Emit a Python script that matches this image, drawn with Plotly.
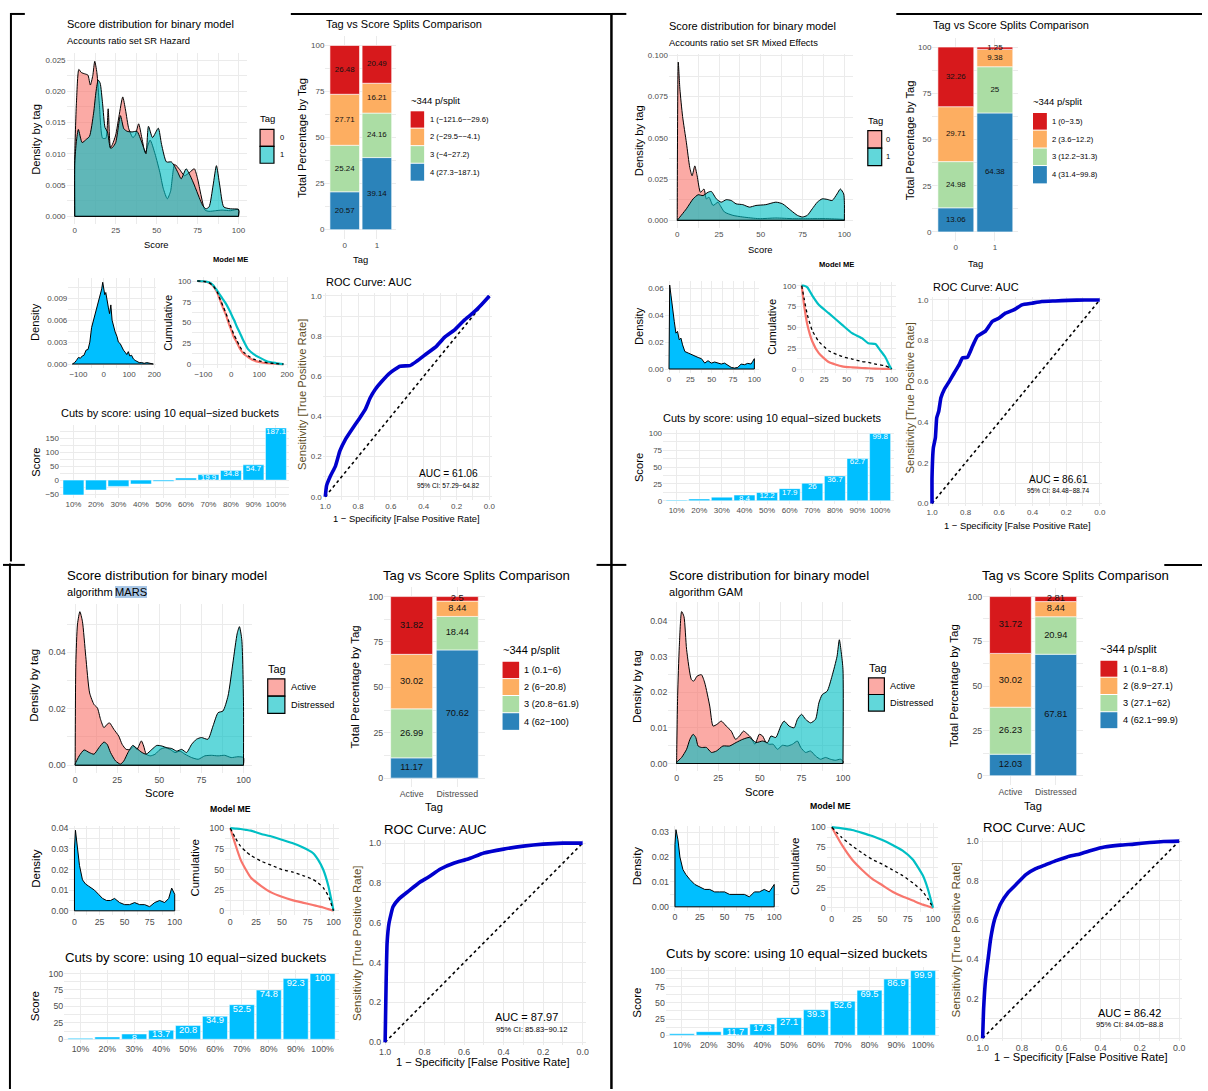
import plotly.graph_objects as go

W, H = 1208, 1091

# ======================= DATA =======================
TITLE_DENS = "Score distribution for binary model"
TITLE_BARS = "Tag vs Score Splits Comparison"
TITLE_CUTS = "Cuts by score: using 10 equal\u2212sized buckets"
TITLE_ROC = "ROC Curve: AUC"
CAPTION = "Model ME"
SPLIT_LEGEND_TITLE = "~344 p/split"
TAG_LEGEND_TITLE = "Tag"
DECILE_LABELS = ["10%", "20%", "30%", "40%", "50%", "60%", "70%", "80%", "90%", "100%"]
PCT_TICKS = [0, 25, 50, 75, 100]
PCT_TICKTEXT = ["0", "25", "50", "75", "100"]
SCORE_TICKS = [0, 25, 50, 75, 100]
SCORE_TICKTEXT = ["0", "25", "50", "75", "100"]
WIDE_TICKS = [-100, 0, 100, 200]
WIDE_TICKTEXT = ["\u2212100", "0", "100", "200"]
ROC_TICKS = [0, 0.2, 0.4, 0.6, 0.8, 1.0]
ROC_TICKTEXT = ["0.0", "0.2", "0.4", "0.6", "0.8", "1.0"]
DIAG_SPEC = [1, 0]
DIAG_SENS = [0, 1]

# ---------- Q1 : Accounts ratio set SR Hazard ----------
Q1_SUBTITLE = "Accounts ratio set SR Hazard"
Q1_TAGS = ["0", "1"]
Q1_D0_X = [0, 1, 2.5, 4, 6, 8, 9.5, 11, 12.2, 13.5, 15, 17, 19, 20.4, 21.8, 23, 25, 27, 29.3, 31, 33, 35.5, 37, 39, 41, 43, 46, 49, 52, 54, 56.5, 58.5, 61, 64, 67, 70, 73, 75, 77, 79.5, 82, 86, 90, 95, 100]
Q1_D0_Y = [0.0095, 0.018, 0.0235, 0.023, 0.0228, 0.0226, 0.021, 0.0225, 0.0248, 0.023, 0.018, 0.0125, 0.0125, 0.0172, 0.011, 0.0115, 0.013, 0.016, 0.0191, 0.017, 0.014, 0.0126, 0.013, 0.0148, 0.0125, 0.0102, 0.0122, 0.010, 0.007, 0.0045, 0.0028, 0.004, 0.0083, 0.0075, 0.0065, 0.007, 0.0076, 0.006, 0.0035, 0.001, 0.0008, 0.0009, 0.001, 0.0009, 0.0011]
Q1_D1_X = [0, 1, 2.2, 4.5, 7, 9, 11.5, 13, 14.3, 15.5, 17, 18.5, 20, 21.8, 23, 25, 27.9, 30, 32, 35, 38, 40, 42, 43.5, 45, 47.5, 51, 53, 56, 59, 61, 63, 65, 68, 70.5, 73, 76, 78, 80, 82, 84.5, 86.5, 88.5, 91, 95, 100]
Q1_D1_Y = [0.0085, 0.012, 0.0139, 0.0118, 0.0123, 0.0128, 0.0165, 0.020, 0.0218, 0.0213, 0.018, 0.0142, 0.0135, 0.0109, 0.011, 0.0118, 0.0161, 0.014, 0.0136, 0.0135, 0.0136, 0.0125, 0.011, 0.010, 0.0144, 0.0126, 0.0141, 0.0115, 0.0087, 0.0087, 0.008, 0.007, 0.006, 0.0076, 0.0065, 0.005, 0.003, 0.0018, 0.0012, 0.0015, 0.005, 0.0081, 0.005, 0.0015, 0.0012, 0.0011]
Q1_DENS_YT = [0, 0.005, 0.010, 0.015, 0.020, 0.025]
Q1_DENS_YTT = ["0.000", "0.005", "0.010", "0.015", "0.020", "0.025"]
Q1_PCT_TAG0 = [26.48, 27.71, 25.24, 20.57]
Q1_PCT_TAG1 = [20.49, 16.21, 24.16, 39.14]
Q1_SPLIT_LABELS = ["1 (\u2212121.6\u2212\u221229.6)", "2 (\u221229.5\u2212\u22124.1)", "3 (\u22124\u221227.2)", "4 (27.3\u2212187.1)"]
Q1_ALL_X = [-124, -115, -108, -100, -92, -85, -78, -70, -62, -55, -48, -42, -36, -30, -24, -18, -13, -8, -4, 0, 4, 8, 13, 18, 23, 28, 33, 39, 45, 52, 58, 65, 72, 78, 85, 91, 97, 103, 110, 117, 124, 132, 140, 150, 160, 170, 180, 190, 196]
Q1_ALL_Y = [0.0, 0.0002, 0.0005, 0.0009, 0.0008, 0.0011, 0.0012, 0.0019, 0.0020, 0.0030, 0.0050, 0.0058, 0.0066, 0.0072, 0.0080, 0.0088, 0.0096, 0.0103, 0.0112, 0.0104, 0.0095, 0.0098, 0.0085, 0.0078, 0.0069, 0.0081, 0.0060, 0.0050, 0.0044, 0.0038, 0.0030, 0.0028, 0.0022, 0.0019, 0.0016, 0.0013, 0.0017, 0.0011, 0.0012, 0.0007, 0.0005, 0.0003, 0.0002, 0.0002, 0.0001, 0.0002, 0.0001, 0.0001, 0.0]
Q1_ALL_YT = [0, 0.003, 0.006, 0.009]
Q1_ALL_YTT = ["0.000", "0.003", "0.006", "0.009"]
Q1_CUM_X = [-122, -100, -80, -65, -50, -40, -30, -20, -10, 0, 10, 20, 30, 45, 60, 80, 100, 130, 160, 187]
Q1_CUM_TAG0 = [100, 99.5, 98, 94, 86, 77, 68, 60, 50, 41, 32, 26, 19, 12, 8.5, 4.5, 2.5, 1, 0.3, 0]
Q1_CUM_TAG1 = [100, 99.7, 98.5, 95, 88, 83, 78, 73, 67, 60, 53, 45, 38, 27, 18, 12, 8, 3, 1.2, 0]
Q1_CUM_ALL = [100, 99.5, 98.1, 94.2, 86.5, 78, 70, 62, 52.5, 43.5, 35, 28.5, 21.5, 14, 10, 6, 3.8, 1.5, 0.5, 0]
Q1_CUTS = [-53.4, -35.6, -22.6, -14.0, -4.1, 7.5, 19.9, 34.8, 54.7, 187.1]
Q1_CUTS_YT = [-50, 0, 50, 100, 150]
Q1_CUTS_YTT = ["\u221250", "0", "50", "100", "150"]
Q1_ROC_SPEC = [1, 0.992, 0.968, 0.9375, 0.911, 0.877, 0.837, 0.796, 0.756, 0.726, 0.696, 0.655, 0.605, 0.544, 0.484, 0.444, 0.383, 0.323, 0.272, 0.212, 0.151, 0.101, 0.05, 0]
Q1_ROC_SENS = [0, 0.055, 0.104, 0.154, 0.228, 0.286, 0.336, 0.385, 0.435, 0.493, 0.534, 0.575, 0.617, 0.65, 0.653, 0.674, 0.712, 0.749, 0.795, 0.831, 0.881, 0.914, 0.955, 1]
Q1_AUC = "AUC = 61.06"
Q1_CI = "95% CI: 57.29\u221264.82"

# ---------- Q2 : Accounts ratio set SR Mixed Effects ----------
Q2_SUBTITLE = "Accounts ratio set SR Mixed Effects"
Q2_TAGS = ["0", "1"]
Q2_D0_X = [0, 0.6, 1.6, 3.2, 5.5, 7.5, 8.9, 10.5, 11.9, 13.9, 16, 17.4, 19, 21.4, 24.4, 25.7, 28.3, 33.3, 39.2, 49, 59, 69, 79, 88.7, 98.6, 100]
Q2_D0_Y = [0.003, 0.096, 0.0795, 0.063, 0.047, 0.032, 0.027, 0.033, 0.027, 0.017, 0.019, 0.013, 0.014, 0.009, 0.011, 0.009, 0.005, 0.003, 0.002, 0.001, 0.0014, 0.001, 0.001, 0.001, 0.0006, 0.0004]
Q2_D1_X = [0, 5.5, 9.5, 12.5, 15.4, 18.4, 20.4, 23.4, 26.3, 29.3, 32.3, 35.2, 39.2, 43.2, 47.1, 53, 59, 63, 68, 71.9, 74.9, 77.8, 80.8, 83.8, 86.7, 89.7, 92.7, 95.6, 97.6, 99.6, 100]
Q2_D1_Y = [0.0, 0.007, 0.013, 0.0155, 0.015, 0.017, 0.0175, 0.013, 0.011, 0.0125, 0.012, 0.010, 0.0095, 0.008, 0.009, 0.0095, 0.011, 0.010, 0.006, 0.003, 0.002, 0.003, 0.007, 0.011, 0.013, 0.0127, 0.012, 0.016, 0.019, 0.016, 0.011]
Q2_DENS_YT = [0, 0.025, 0.05, 0.075, 0.1]
Q2_DENS_YTT = ["0.000", "0.025", "0.050", "0.075", "0.100"]
Q2_PCT_TAG0 = [32.26, 29.71, 24.98, 13.06]
Q2_PCT_TAG1 = [1.25, 9.38, 25, 64.38]
Q2_SPLIT_LABELS = ["1 (0\u22123.5)", "2 (3.6\u221212.2)", "3 (12.2\u221231.3)", "4 (31.4\u221299.8)"]
Q2_ALL_X = [0, 0.8, 2.3, 4.3, 6.2, 8.1, 10, 12, 14, 15.9, 18.6, 22.5, 26.4, 30.2, 34.1, 38, 41.9, 45.7, 49.6, 53.5, 57.4, 61.2, 65.1, 69, 72.9, 76.7, 80.6, 84.5, 88.4, 92.2, 96.1, 98.1, 100]
Q2_ALL_Y = [0.060, 0.0625, 0.055, 0.0427, 0.0353, 0.0267, 0.028, 0.0217, 0.023, 0.018, 0.013, 0.0119, 0.0106, 0.0094, 0.0086, 0.0077, 0.0044, 0.0062, 0.0044, 0.0052, 0.0044, 0.0037, 0.0044, 0.0027, 0.0012, 0.0007, 0.0012, 0.0037, 0.0032, 0.0042, 0.0037, 0.0057, 0.0077]
Q2_ALL_YT = [0, 0.02, 0.04, 0.06]
Q2_ALL_YTT = ["0.00", "0.02", "0.04", "0.06"]
Q2_CUM_X = [0, 2.6, 6.3, 11.8, 19, 30, 45, 56, 67, 74, 82, 87, 92.6, 98, 100]
Q2_CUM_TAG0 = [100, 77, 53, 33, 19, 8.4, 3.2, 2, 1.2, 0.9, 0.4, 0.3, 0.2, 0, 0]
Q2_CUM_TAG1 = [100, 100, 98, 88, 77, 67, 53, 43, 37, 31, 30, 23, 15, 3.2, 0]
Q2_CUM_ALL = [100, 85, 65, 46, 33, 22, 15, 12, 9, 8, 6, 5, 4, 1.5, 0]
Q2_CUTS = [1.0, 2.6, 5.3, 8.4, 12.2, 17.9, 26, 36.7, 62.7, 99.8]
Q2_ROC_SPEC = [1, 1, 0.992, 0.98, 0.972, 0.96, 0.947, 0.927, 0.897, 0.868, 0.838, 0.819, 0.789, 0.759, 0.73, 0.68, 0.641, 0.602, 0.562, 0.513, 0.464, 0.404, 0.345, 0.266, 0.187, 0.089, 0]
Q2_ROC_SENS = [0, 0.127, 0.274, 0.323, 0.421, 0.453, 0.519, 0.56, 0.6, 0.641, 0.682, 0.715, 0.718, 0.772, 0.821, 0.848, 0.894, 0.91, 0.935, 0.951, 0.976, 0.984, 0.992, 0.995, 0.998, 1, 1]
Q2_AUC = "AUC = 86.61"
Q2_CI = "95% CI: 84.48\u221288.74"

# ---------- Q3 : algorithm MARS ----------
Q3_SUBTITLE = "algorithm"
Q3_SUBTITLE_HL = "MARS"
Q3_TAGS = ["Active", "Distressed"]
Q3_D0_X = [0, 0.4, 1.4, 2.8, 4.3, 6.3, 8.6, 11.2, 13.2, 15.1, 17.1, 19, 20.4, 23, 25.9, 27.9, 30.3, 32.8, 34.8, 36.7, 39.3, 40.7, 42.2, 44.6, 47.5, 50.5, 53.4, 56.4, 59.3, 62.3, 65.2, 69.2, 73.1, 77, 80.9, 84.9, 88.8, 92.7, 96.7, 100]
Q3_D0_Y = [0.001, 0.036, 0.05, 0.0544, 0.051, 0.0386, 0.0256, 0.0215, 0.0203, 0.0162, 0.0133, 0.0145, 0.015, 0.0127, 0.0103, 0.0074, 0.0056, 0.0056, 0.0068, 0.0056, 0.0086, 0.0068, 0.0039, 0.0033, 0.0039, 0.0056, 0.0062, 0.0056, 0.0045, 0.005, 0.0039, 0.0027, 0.0021, 0.0033, 0.0035, 0.0033, 0.0035, 0.0027, 0.003, 0.0027]
Q3_D1_X = [0, 2.4, 5.3, 8.3, 11.2, 14.1, 17.1, 19, 21, 24, 26.9, 28.9, 31.4, 34.2, 36.7, 39.7, 42.2, 45.6, 48.5, 51.5, 54.4, 57.4, 60.3, 63.3, 66.2, 69.2, 72.1, 75, 78.9, 81.9, 84.9, 87.8, 90.8, 93.7, 96.3, 97.6, 99, 100]
Q3_D1_Y = [0.0004, 0.0033, 0.0054, 0.0045, 0.0039, 0.0062, 0.0082, 0.0074, 0.0045, 0.0015, 0.0004, 0.0015, 0.0045, 0.007, 0.0059, 0.0045, 0.0039, 0.0056, 0.007, 0.0068, 0.0062, 0.0059, 0.005, 0.0056, 0.0045, 0.0074, 0.0092, 0.0098, 0.0092, 0.0139, 0.0186, 0.0192, 0.0245, 0.0362, 0.0468, 0.0491, 0.0444, 0.0221]
Q3_DENS_YT = [0, 0.02, 0.04]
Q3_DENS_YTT = ["0.00", "0.02", "0.04"]
Q3_PCT_TAG0 = [31.82, 30.02, 26.99, 11.17]
Q3_PCT_TAG1 = [2.5, 8.44, 18.44, 70.62]
Q3_SPLIT_LABELS = ["1 (0.1\u22126)", "2 (6\u221220.8)", "3 (20.8\u221261.9)", "4 (62\u2212100)"]
Q3_ALL_X = [0, 1, 3, 5, 8, 11, 14, 17, 20, 24, 28, 32, 36, 40, 45, 50, 55, 60, 65, 70, 75, 80, 85, 90, 94, 97, 100]
Q3_ALL_Y = [0.03, 0.039, 0.031, 0.022, 0.015, 0.013, 0.012, 0.011, 0.010, 0.008, 0.006, 0.005, 0.005, 0.006, 0.004, 0.003, 0.003, 0.004, 0.003, 0.003, 0.002, 0.004, 0.005, 0.004, 0.006, 0.011, 0.008]
Q3_ALL_YT = [0, 0.01, 0.02, 0.03, 0.04]
Q3_ALL_YTT = ["0.00", "0.01", "0.02", "0.03", "0.04"]
Q3_CUM_X = [0, 5, 10, 15, 20, 30, 40, 50, 60, 70, 80, 85, 90, 95, 100]
Q3_CUM_TAG0 = [100, 80, 62, 50, 40, 30, 22, 17, 13, 10, 7, 5.5, 4, 2, 0]
Q3_CUM_TAG1 = [100, 99.5, 99, 98, 97, 93, 90, 86, 82, 77, 70, 62, 50, 30, 0]
Q3_CUM_ALL = [100, 88, 78, 72, 67, 60, 55, 50, 47, 43, 38, 34, 28, 18, 0]
Q3_CUTS = [1.4, 3.5, 8.0, 13.7, 20.8, 34.9, 52.5, 74.8, 92.3, 100]
Q3_ROC_SPEC = [1, 0.995, 0.99, 0.98, 0.96, 0.93, 0.88, 0.83, 0.78, 0.72, 0.65, 0.58, 0.5, 0.4, 0.3, 0.2, 0.1, 0]
Q3_ROC_SENS = [0, 0.3, 0.5, 0.6, 0.68, 0.72, 0.76, 0.8, 0.83, 0.87, 0.9, 0.92, 0.95, 0.97, 0.985, 0.995, 1, 1]
Q3_AUC = "AUC = 87.97"
Q3_CI = "95% CI: 85.83\u221290.12"

# ---------- Q4 : algorithm GAM ----------
Q4_SUBTITLE = "algorithm GAM"
Q4_TAGS = ["Active", "Distressed"]
Q4_D0_X = [0, 0.6, 1.6, 3, 4.4, 6, 8.9, 10.3, 12.3, 14.9, 16.9, 19.9, 21.9, 24.3, 26.8, 29.8, 32.8, 35.4, 37.8, 40.2, 42.7, 44.7, 47.1, 49.7, 51.7, 53.7, 55.7, 58, 60.6, 63.6, 66.6, 69.6, 72.6, 74.6, 77.5, 80.5, 83.5, 86.5, 89.5, 92.4, 95.4, 98.4, 100]
Q4_D0_Y = [0.0012, 0.019, 0.0328, 0.0426, 0.0412, 0.0319, 0.0235, 0.0231, 0.0245, 0.0249, 0.0226, 0.0161, 0.0105, 0.011, 0.0119, 0.0105, 0.0091, 0.0068, 0.0077, 0.0091, 0.0082, 0.0073, 0.0054, 0.0082, 0.0077, 0.0059, 0.0054, 0.0054, 0.004, 0.0051, 0.0049, 0.0054, 0.0063, 0.0045, 0.0031, 0.0035, 0.0021, 0.0012, 0.0017, 0.0012, 0.0009, 0.0012, 0.0007]
Q4_D1_X = [0, 3, 6, 8, 9.9, 11.5, 12.9, 14.9, 17.9, 20.9, 23.9, 27.8, 31.8, 35.8, 39.8, 43.7, 47.7, 51.7, 54.7, 56.7, 59.6, 62.6, 64.6, 67.6, 70.6, 72.6, 75.1, 77.5, 80.5, 83.5, 85.5, 87.5, 90.5, 93.4, 96.4, 97.8, 99, 100]
Q4_D1_Y = [0.0003, 0.0017, 0.004, 0.0068, 0.0082, 0.0073, 0.0049, 0.0045, 0.0045, 0.0031, 0.0035, 0.0049, 0.0049, 0.0059, 0.0068, 0.0073, 0.0059, 0.0063, 0.0059, 0.0077, 0.0073, 0.0105, 0.0119, 0.0105, 0.010, 0.0124, 0.0138, 0.0124, 0.0114, 0.0124, 0.017, 0.0193, 0.0203, 0.0245, 0.030, 0.0347, 0.031, 0.0263]
Q4_DENS_YT = [0, 0.01, 0.02, 0.03, 0.04]
Q4_DENS_YTT = ["0.00", "0.01", "0.02", "0.03", "0.04"]
Q4_PCT_TAG0 = [31.72, 30.02, 26.23, 12.03]
Q4_PCT_TAG1 = [2.81, 8.44, 20.94, 67.81]
Q4_SPLIT_LABELS = ["1 (0.1\u22128.8)", "2 (8.9\u221227.1)", "3 (27.1\u221262)", "4 (62.1\u221299.9)"]
Q4_ALL_X = [0, 1, 3, 5, 8, 11, 15, 20, 25, 30, 35, 40, 45, 50, 55, 60, 65, 70, 75, 80, 85, 90, 95, 98, 100]
Q4_ALL_Y = [0.025, 0.031, 0.027, 0.020, 0.015, 0.013, 0.011, 0.009, 0.008, 0.007, 0.007, 0.006, 0.006, 0.006, 0.005, 0.005, 0.005, 0.005, 0.004, 0.006, 0.006, 0.007, 0.006, 0.008, 0.009]
Q4_ALL_YT = [0, 0.01, 0.02, 0.03]
Q4_ALL_YTT = ["0.00", "0.01", "0.02", "0.03"]
Q4_CUM_X = [0, 10, 20, 30, 40, 50, 60, 70, 80, 90, 95, 100]
Q4_CUM_TAG0 = [100, 78, 60, 47, 36, 28, 20, 14, 9, 4, 2, 0]
Q4_CUM_TAG1 = [100, 98.5, 96.5, 93, 89, 84, 78, 71, 60, 40, 23, 0]
Q4_CUM_ALL = [100, 87, 77, 68, 60, 54, 47, 40, 31, 20, 11, 0]
Q4_CUTS = [2.3, 5.5, 11.7, 17.3, 27.1, 39.3, 52.6, 69.5, 86.9, 99.9]
Q4_ROC_SPEC = [1, 0.995, 0.985, 0.97, 0.96, 0.94, 0.91, 0.87, 0.83, 0.78, 0.73, 0.68, 0.63, 0.57, 0.505, 0.44, 0.38, 0.3, 0.23, 0.15, 0.08, 0]
Q4_ROC_SENS = [0, 0.15, 0.3, 0.42, 0.5, 0.6, 0.68, 0.74, 0.78, 0.83, 0.86, 0.88, 0.9, 0.92, 0.935, 0.955, 0.97, 0.98, 0.985, 0.993, 0.998, 1]
Q4_AUC = "AUC = 86.42"
Q4_CI = "95% CI: 84.05\u221288.8"

# ======================= STYLE =======================
REG = "Liberation Sans, Arial, sans-serif"
GRID = "#EBEBEB"
TICKC = "#4D4D4D"
TAG_FILL = ["rgba(248,118,109,0.62)", "rgba(0,191,196,0.62)"]
TAG_LINE = ["#F8766D", "#00BFC4"]
SPLIT_COLORS = ["#D7191C", "#FDAE61", "#ABDDA4", "#2B83BA"]
SKY = "#00BFFF"
ROC_BLUE = "#0000CD"
SENS_COLOR = "#5E4E1F"
# top row was horizontally squeezed in the source document -> smaller horizontal text
SZ_TOP = dict(title=11.0, sub=9.4, axt=9.4, axv=11.2, tick=8.0, legt=9.5, legl=7.6, barl=7.9, auc=10.2, ci=6.6, me=7.6)
SZ_BOT = dict(title=13.2, sub=11.1, axt=11.1, axv=11.5, tick=8.8, legt=11.0, legl=9.2, barl=9.3, auc=11.0, ci=7.6, me=8.7)

fig = go.Figure()
LAY = {}
ANN = []
SHP = []
COUNT = [0]


def lin(anchors, v):
    (v1, p1), (v2, p2) = anchors
    return p1 + (v - v1) * (p2 - p1) / (v2 - v1)


def minor_vals(ticks, rng):
    step = ticks[1] - ticks[0]
    lo, hi = min(rng), max(rng)
    out = []
    for k in range(-6, len(ticks) + 6):
        v = ticks[0] + step * (k + 0.5)
        if lo < v < hi:
            out.append(v)
    return out


def add_axes(xa, xr, ya, yr, xt, xtt, yt, ytt, font, tsize, xminor=True, yminor=True):
    COUNT[0] += 1
    n = COUNT[0]
    s = "" if n == 1 else str(n)
    px = sorted([lin(xa, xr[0]), lin(xa, xr[1])])
    py = sorted([lin(ya, yr[0]), lin(ya, yr[1])])
    base = dict(showgrid=True, gridcolor=GRID, gridwidth=1, zeroline=False, showline=False,
                ticks="", fixedrange=True, tickmode="array", tickangle=0,
                tickfont=dict(family=font, size=tsize, color=TICKC))
    xd = dict(base, domain=[px[0] / W, px[1] / W], range=list(xr), anchor="y" + s,
              tickvals=xt, ticktext=xtt)
    if xminor:
        xd["minor"] = dict(tickvals=minor_vals(xt, xr), showgrid=True, gridcolor=GRID, gridwidth=0.5)
    yd = dict(base, domain=[1 - py[1] / H, 1 - py[0] / H], range=list(yr), anchor="x" + s,
              tickvals=yt, ticktext=ytt)
    if yminor:
        yd["minor"] = dict(tickvals=minor_vals(yt, yr), showgrid=True, gridcolor=GRID, gridwidth=0.5)
    LAY["xaxis" + s] = xd
    LAY["yaxis" + s] = yd
    return "x" + s, "y" + s


def txt(x, y, s, size, font, color="black", xanchor="left", yanchor="middle", angle=0, bg=None):
    a = dict(x=x / W, y=1 - y / H, xref="paper", yref="paper", text=s, showarrow=False,
             xanchor=xanchor, yanchor=yanchor, textangle=angle, borderpad=0, borderwidth=0,
             font=dict(family=font, size=size, color=color))
    if bg:
        a["bgcolor"] = bg
    ANN.append(a)


def rect(x0, y0, x1, y1, fill, line=None, lw=0):
    SHP.append(dict(type="rect", xref="paper", yref="paper", x0=x0 / W, x1=x1 / W,
                    y0=1 - y1 / H, y1=1 - y0 / H, fillcolor=fill,
                    line=dict(color=line or fill, width=lw), layer="above"))


def hline(x0, x1, y, w=2):
    SHP.append(dict(type="line", xref="paper", yref="paper", x0=x0 / W, x1=x1 / W,
                    y0=1 - y / H, y1=1 - y / H, line=dict(color="black", width=w)))


def vline(x, y0, y1, w=2):
    SHP.append(dict(type="line", xref="paper", yref="paper", x0=x / W, x1=x / W,
                    y0=1 - y0 / H, y1=1 - y1 / H, line=dict(color="black", width=w)))


def build(q):
    F, S = q["font"], q["sz"]
    common = dict(hoverinfo="skip", showlegend=False)

    # ---------------- density by tag ----------------
    g = q["dens"]
    xa, ya = add_axes(g["xa"], (-5, 105), g["ya"], g["yr"], SCORE_TICKS, SCORE_TICKTEXT,
                      q["dens_yt"], q["dens_ytt"], F, S["tick"])
    for (xs, ys), fill in zip(q["dens_data"], TAG_FILL):
        fig.add_trace(go.Scatter(x=[xs[0]] + list(xs) + [xs[-1]], y=[0] + list(ys) + [0],
                                 mode="lines", fill="toself", fillcolor=fill,
                                 line=dict(color="black", width=1, shape="spline", smoothing=0.6),
                                 xaxis=xa, yaxis=ya, **common))
        fig.add_trace(go.Scatter(x=[xs[0], xs[-1]], y=[0, 0], mode="lines",
                                 line=dict(color="black", width=1), xaxis=xa, yaxis=ya, **common))
    t = q["t"]
    txt(*t["title"], TITLE_DENS, S["title"], F)
    txt(*t["sub"], q["subtitle"], S["sub"], F)
    if q.get("sub_hl"):
        txt(*t["sub_hl"], q["sub_hl"], S["sub"], F, bg="#A9C7E6")
    txt(*t["dens_y"], "Density by tag", S["axv"], REG, xanchor="center", angle=-90)
    txt(*t["dens_x"], "Score", S["axt"], F, xanchor="center")
    txt(*t["me"], "<b>" + CAPTION + "</b>", S["me"], F, xanchor="center")
    lg = q["tag_leg"]
    txt(*lg["title"], TAG_LEGEND_TITLE, S["legt"], F)
    for k in range(2):
        y0, y1 = lg["keys"][k]
        rect(lg["x"][0], y0, lg["x"][1], y1, TAG_FILL[k], "black", 1.2)
        txt(lg["lab_x"], (y0 + y1) / 2, q["tags"][k], S["legl"], F)

    # ---------------- stacked split bars ----------------
    g = q["bars"]
    xa, ya = add_axes(g["xa"], (0.4, 2.6), g["ya"], (-5, 105), [1, 2], q["tags"],
                      PCT_TICKS, PCT_TICKTEXT, F, S["tick"], xminor=False)
    pct = q["pct"]
    base = [0.0, 0.0]
    for k in [3, 2, 1, 0]:
        vals = [pct[0][k], pct[1][k]]
        fig.add_trace(go.Bar(x=[1, 2], y=vals, base=list(base), width=0.92,
                             marker=dict(color=SPLIT_COLORS[k], line=dict(color="white", width=0.6)),
                             xaxis=xa, yaxis=ya, **common))
        mids = [base[i] + vals[i] / 2 for i in range(2)]
        fig.add_trace(go.Scatter(x=[1, 2], y=mids, mode="text", text=[f"{v:g}" for v in vals],
                                 textfont=dict(family=F, size=S["barl"], color="#111111"),
                                 xaxis=xa, yaxis=ya, **common))
        base = [base[i] + vals[i] for i in range(2)]
    txt(*t["bars_title"], TITLE_BARS, S["title"], F)
    txt(*t["bars_y"], "Total Percentage by Tag", S["axv"], REG, xanchor="center", angle=-90)
    txt(*t["bars_x"], "Tag", S["axt"], F, xanchor="center")
    lg = q["split_leg"]
    txt(*lg["title"], SPLIT_LEGEND_TITLE, S["legt"], F)
    for k in range(4):
        y0, y1 = lg["keys"][k]
        rect(lg["x"][0], y0 + 0.5, lg["x"][1], y1 - 0.5, SPLIT_COLORS[k])
        txt(lg["lab_x"], (y0 + y1) / 2, q["split_labels"][k], S["legl"], F)

    # ---------------- overall density ----------------
    g = q["all"]
    xa, ya = add_axes(g["xa"], g["xr"], g["ya"], g["yr"], g["xt"], g["xtt"],
                      q["all_yt"], q["all_ytt"], F, S["tick"])
    xs, ys = q["all_data"]
    fig.add_trace(go.Scatter(x=[xs[0]] + list(xs) + [xs[-1]], y=[0] + list(ys) + [0],
                             mode="lines", fill="toself", fillcolor=SKY,
                             line=dict(color="black", width=1), xaxis=xa, yaxis=ya, **common))
    fig.add_trace(go.Scatter(x=[xs[0], xs[-1]], y=[0, 0], mode="lines",
                             line=dict(color="black", width=1), xaxis=xa, yaxis=ya, **common))
    txt(*t["all_y"], "Density", S["axv"], REG, xanchor="center", angle=-90)

    # ---------------- cumulative ----------------
    g = q["cum"]
    xa, ya = add_axes(g["xa"], g["xr"], g["ya"], (-5, 105), g["xt"], g["xtt"],
                      PCT_TICKS, PCT_TICKTEXT, F, S["tick"])
    cx, c0, c1, call = q["cum_data"]
    fig.add_trace(go.Scatter(x=cx, y=c0, mode="lines", line=dict(color=TAG_LINE[0], width=2.2, shape="spline", smoothing=0.5),
                             xaxis=xa, yaxis=ya, **common))
    fig.add_trace(go.Scatter(x=cx, y=c1, mode="lines", line=dict(color=TAG_LINE[1], width=2.2, shape="spline", smoothing=0.5),
                             xaxis=xa, yaxis=ya, **common))
    fig.add_trace(go.Scatter(x=cx, y=call, mode="lines", line=dict(color="black", width=1.3, dash="dot", shape="spline", smoothing=0.5),
                             xaxis=xa, yaxis=ya, **common))
    txt(*t["cum_y"], "Cumulative", S["axv"], REG, xanchor="center", angle=-90)

    # ---------------- cuts ----------------
    g = q["cuts"]
    xs = list(range(1, 11))
    xa, ya = add_axes(g["xa"], (0.4, 10.6), g["ya"], g["yr"], xs, DECILE_LABELS,
                      g["yt"], g["ytt"], F, S["tick"], xminor=False)
    vals = q["cut_vals"]
    fig.add_trace(go.Bar(x=xs, y=vals, width=0.93, marker=dict(color=SKY, line=dict(color="white", width=0.5)),
                         xaxis=xa, yaxis=ya, **common))
    # white value labels sit just under each bar top; they only show where they fall on a bar
    (v1, p1), (v2, p2) = g["ya"]
    ppu = abs(p2 - p1) / abs(v2 - v1)
    lab = [(x, v) for x, v in zip(xs, vals) if v * ppu >= 4]
    fig.add_trace(go.Scatter(x=[a for a, _ in lab], y=[b for _, b in lab], mode="text",
                             text=[f"{b:g}" for _, b in lab], textposition="bottom center",
                             textfont=dict(family=F, size=S["barl"], color="white"),
                             xaxis=xa, yaxis=ya, **common))
    txt(*t["cuts_title"], TITLE_CUTS, S["title"], F)
    txt(*t["cuts_y"], "Score", S["axv"], REG, xanchor="center", angle=-90)

    # ---------------- ROC ----------------
    g = q["roc"]
    xa, ya = add_axes(g["xa"], (1.015, -0.015), g["ya"], (-0.015, 1.015), ROC_TICKS, ROC_TICKTEXT,
                      ROC_TICKS, ROC_TICKTEXT, F, S["tick"])
    fig.add_trace(go.Scatter(x=DIAG_SPEC, y=DIAG_SENS, mode="lines",
                             line=dict(color="black", width=1.6, dash="dot"), xaxis=xa, yaxis=ya, **common))
    sp, se = q["roc_data"]
    fig.add_trace(go.Scatter(x=sp, y=se, mode="lines",
                             line=dict(color=ROC_BLUE, width=3.6, shape="spline", smoothing=0.4),
                             xaxis=xa, yaxis=ya, **common))
    txt(*t["roc_title"], TITLE_ROC, S["title"], F)
    txt(*t["roc_y"], "Sensitivity [True Positive Rate]", S["axv"], REG, color=SENS_COLOR, xanchor="center", angle=-90)
    txt(*t["roc_x"], "1 \u2212 Specificity [False Positive Rate]", S["axt"], F, xanchor="center")
    txt(*t["auc"], q["auc"], S["auc"], F, xanchor="center")
    txt(*t["ci"], q["ci"], S["ci"], F, xanchor="center")


QUADS = [
    dict(font=REG, sz=SZ_TOP, subtitle=Q1_SUBTITLE, tags=Q1_TAGS,
         dens=dict(xa=((0, 72.3), (100, 237.3)), ya=((0, 214.3), (0.025, 57.3)), yr=(-0.00125, 0.0261)),
         dens_data=[(Q1_D0_X, Q1_D0_Y), (Q1_D1_X, Q1_D1_Y)], dens_yt=Q1_DENS_YT, dens_ytt=Q1_DENS_YTT,
         tag_leg=dict(title=(259, 116), x=(259, 273), keys=[(127, 144), (144, 161)], lab_x=279),
         bars=dict(xa=((1, 344.3), (2, 376.7)), ya=((0, 227.7), (100, 42.7))),
         pct=[Q1_PCT_TAG0, Q1_PCT_TAG1], split_labels=Q1_SPLIT_LABELS,
         split_leg=dict(title=(410.7, 97.7), x=(410.7, 424.3),
                        keys=[(108.3, 125.7), (125.7, 143.3), (143.3, 161), (161, 179)], lab_x=430),
         all=dict(xa=((0, 101.5), (100, 127.0)), xr=(-140, 205), ya=((0, 362.7), (0.009, 296.7)),
                  yr=(-0.00056, 0.0118), xt=WIDE_TICKS, xtt=WIDE_TICKTEXT),
         all_data=(Q1_ALL_X, Q1_ALL_Y), all_yt=Q1_ALL_YT, all_ytt=Q1_ALL_YTT,
         cum=dict(xa=((0, 230), (100, 258.1)), xr=(-140, 205), ya=((0, 362.7), (100, 279.3)),
                  xt=WIDE_TICKS, xtt=WIDE_TICKTEXT),
         cum_data=(Q1_CUM_X, Q1_CUM_TAG0, Q1_CUM_TAG1, Q1_CUM_ALL),
         cuts=dict(xa=((1, 71), (10, 275)), ya=((0, 479.3), (150, 437.3)), yr=(-65.4, 199.1),
                   yt=Q1_CUTS_YT, ytt=Q1_CUTS_YTT),
         cut_vals=Q1_CUTS,
         roc=dict(xa=((1, 324.7), (0, 490)), ya=((0, 496), (1, 294.3))),
         roc_data=(Q1_ROC_SPEC, Q1_ROC_SENS), auc=Q1_AUC, ci=Q1_CI,
         t=dict(title=(64, 20.7), sub=(64, 37.3), dens_y=(33, 136.7), dens_x=(154.7, 243), me=(229, 258),
                bars_title=(325.7, 20.7), bars_y=(301.7, 135), bars_x=(360.5, 258),
                all_y=(33, 320.8), cum_y=(166.7, 320.8),
                cuts_title=(58.3, 411.7), cuts_y=(33.3, 461.7),
                roc_title=(325, 280), roc_y=(301.7, 393.3), roc_x=(406.7, 518.3),
                auc=(449, 472.3), ci=(448.7, 484.3))),
    dict(font=REG, sz=SZ_TOP, subtitle=Q2_SUBTITLE, tags=Q2_TAGS,
         dens=dict(xa=((0, 679.3), (100, 847.7)), ya=((0, 218.3), (0.1, 52.7)), yr=(-0.0048, 0.1008)),
         dens_data=[(Q2_D0_X, Q2_D0_Y), (Q2_D1_X, Q2_D1_Y)], dens_yt=Q2_DENS_YT, dens_ytt=Q2_DENS_YTT,
         tag_leg=dict(title=(871.3, 118.3), x=(871.3, 885.3), keys=[(128.3, 145.7), (145.7, 163.3)], lab_x=890),
         bars=dict(xa=((1, 960), (2, 999.3)), ya=((0, 230), (100, 44.3))),
         pct=[Q2_PCT_TAG0, Q2_PCT_TAG1], split_labels=Q2_SPLIT_LABELS,
         split_leg=dict(title=(1037.7, 99), x=(1037.7, 1051.7),
                        keys=[(110, 127.7), (127.7, 145.7), (145.7, 163.3), (163.3, 181.7)], lab_x=1056.7),
         all=dict(xa=((0, 671), (100, 757)), xr=(-5, 105), ya=((0, 367.7), (0.06, 286.7)),
                  yr=(-0.0031, 0.0656), xt=SCORE_TICKS, xtt=SCORE_TICKTEXT),
         all_data=(Q2_ALL_X, Q2_ALL_Y), all_yt=Q2_ALL_YT, all_ytt=Q2_ALL_YTT,
         cum=dict(xa=((0, 804.7), (100, 895.3)), xr=(-5, 105), ya=((0, 367.7), (100, 284)),
                  xt=SCORE_TICKS, xtt=SCORE_TICKTEXT),
         cum_data=(Q2_CUM_X, Q2_CUM_TAG0, Q2_CUM_TAG1, Q2_CUM_ALL),
         cuts=dict(xa=((1, 678.7), (10, 883.7)), ya=((0, 500), (100, 432.3)), yr=(-4.99, 104.8),
                   yt=PCT_TICKS, ytt=PCT_TICKTEXT),
         cut_vals=Q2_CUTS,
         roc=dict(xa=((1, 936), (0, 1105)), ya=((0, 502.7), (1, 298.3))),
         roc_data=(Q2_ROC_SPEC, Q2_ROC_SENS), auc=Q2_AUC, ci=Q2_CI,
         t=dict(title=(671, 22.7), sub=(671, 39.3), dens_y=(640.3, 138.3), dens_x=(762.8, 247.3), me=(839.5, 262.3),
                bars_title=(936.7, 21.7), bars_y=(913.3, 137.5), bars_x=(979.7, 261.7),
                all_y=(640.3, 325), cum_y=(775.3, 325.8),
                cuts_title=(664.7, 416.7), cuts_y=(640.3, 466.7),
                roc_title=(936.7, 285), roc_y=(913.3, 396.7), roc_x=(1021.7, 525),
                auc=(1063, 478.3), ci=(1063, 490))),
    dict(font=REG, sz=SZ_BOT, subtitle=Q3_SUBTITLE, sub_hl=Q3_SUBTITLE_HL, tags=Q3_TAGS,
         dens=dict(xa=((0, 72.7), (100, 242.3)), ya=((0, 765.7), (0.04, 652.3)), yr=(-0.0027, 0.0571)),
         dens_data=[(Q3_D0_X, Q3_D0_Y), (Q3_D1_X, Q3_D1_Y)], dens_yt=Q3_DENS_YT, dens_ytt=Q3_DENS_YTT,
         tag_leg=dict(title=(266.7, 669), x=(266.7, 284), keys=[(679, 696.3), (696.3, 713.7)], lab_x=290),
         bars=dict(xa=((1, 411.7), (2, 457.7)), ya=((0, 778.7), (100, 596.3))),
         pct=[Q3_PCT_TAG0, Q3_PCT_TAG1], split_labels=Q3_SPLIT_LABELS,
         split_leg=dict(title=(503.3, 650.3), x=(503.3, 520),
                        keys=[(661.3, 678.7), (678.7, 695.7), (695.7, 713), (713, 730.7)], lab_x=525),
         all=dict(xa=((0, 72), (100, 173)), xr=(-5, 105), ya=((0, 912), (0.04, 829)),
                  yr=(-0.00195, 0.041), xt=SCORE_TICKS, xtt=SCORE_TICKTEXT),
         all_data=(Q3_ALL_X, Q3_ALL_Y), all_yt=Q3_ALL_YT, all_ytt=Q3_ALL_YTT,
         cum=dict(xa=((0, 229), (100, 333)), xr=(-5, 105), ya=((0, 912), (100, 829)),
                  xt=SCORE_TICKS, xtt=SCORE_TICKTEXT),
         cum_data=(Q3_CUM_X, Q3_CUM_TAG0, Q3_CUM_TAG1, Q3_CUM_ALL),
         cuts=dict(xa=((1, 78), (10, 322)), ya=((0, 1041), (100, 975)), yr=(-5, 105),
                   yt=PCT_TICKS, ytt=PCT_TICKTEXT),
         cut_vals=Q3_CUTS,
         roc=dict(xa=((1, 385), (0, 584)), ya=((0, 1044), (1, 844))),
         roc_data=(Q3_ROC_SPEC, Q3_ROC_SENS), auc=Q3_AUC, ci=Q3_CI,
         t=dict(title=(64.3, 574.7), sub=(64.3, 591.3), sub_hl=(113.3, 591.3), dens_y=(31.7, 685.5),
                dens_x=(157.8, 793.7), me=(229.7, 809.7),
                bars_title=(383.3, 574.7), bars_y=(355, 687.2), bars_x=(434.7, 808),
                all_y=(33, 869), cum_y=(193, 869),
                cuts_title=(62, 959), cuts_y=(33, 1008),
                roc_title=(384, 830), roc_y=(356, 944), roc_x=(484, 1064),
                auc=(527, 1019), ci=(533, 1031))),
    dict(font=REG, sz=SZ_BOT, subtitle=Q4_SUBTITLE, tags=Q4_TAGS,
         dens=dict(xa=((0, 678.7), (100, 846.3)), ya=((0, 764), (0.04, 620.7)), yr=(-0.00215, 0.04515)),
         dens_data=[(Q4_D0_X, Q4_D0_Y), (Q4_D1_X, Q4_D1_Y)], dens_yt=Q4_DENS_YT, dens_ytt=Q4_DENS_YTT,
         tag_leg=dict(title=(872, 668), x=(872, 888), keys=[(678, 694.7), (694.7, 711.3)], lab_x=893.7),
         bars=dict(xa=((1, 1015), (2, 1060.7)), ya=((0, 776.3), (100, 596.3))),
         pct=[Q4_PCT_TAG0, Q4_PCT_TAG1], split_labels=Q4_SPLIT_LABELS,
         split_leg=dict(title=(1105, 649), x=(1105.7, 1122.7),
                        keys=[(660.3, 677.3), (677.3, 694.7), (694.7, 712), (712, 729)], lab_x=1128.3),
         all=dict(xa=((0, 677), (100, 777)), xr=(-5, 105), ya=((0, 908), (0.03, 833)),
                  yr=(-0.00155, 0.0326), xt=SCORE_TICKS, xtt=SCORE_TICKTEXT),
         all_data=(Q4_ALL_X, Q4_ALL_Y), all_yt=Q4_ALL_YT, all_ytt=Q4_ALL_YTT,
         cum=dict(xa=((0, 835), (100, 937)), xr=(-5, 105), ya=((0, 909), (100, 828)),
                  xt=SCORE_TICKS, xtt=SCORE_TICKTEXT),
         cum_data=(Q4_CUM_X, Q4_CUM_TAG0, Q4_CUM_TAG1, Q4_CUM_ALL),
         cuts=dict(xa=((1, 684), (10, 927)), ya=((0, 1037), (100, 972)), yr=(-5, 104.9),
                   yt=PCT_TICKS, ytt=PCT_TICKTEXT),
         cut_vals=Q4_CUTS,
         roc=dict(xa=((1, 987), (0, 1185)), ya=((0, 1040), (1, 842))),
         roc_data=(Q4_ROC_SPEC, Q4_ROC_SENS), auc=Q4_AUC, ci=Q4_CI,
         t=dict(title=(671, 574.7), sub=(671, 591.3), dens_y=(638.7, 686.3), dens_x=(762.5, 792.3), me=(834.2, 807),
                bars_title=(986.7, 574.7), bars_y=(958.3, 686.3), bars_x=(1037.8, 806.3),
                all_y=(639, 867), cum_y=(798, 867),
                cuts_title=(668, 955), cuts_y=(639, 1004),
                roc_title=(987, 828), roc_y=(960, 941), roc_x=(1086, 1059),
                auc=(1135, 1015), ci=(1135, 1026))),
]

for q in QUADS:
    build(q)

# table borders of the original document
vline(8, 10, 561, 2)
vline(613, 10, 1091, 2.5)
vline(7, 563, 1091, 2)
hline(8, 22, 11, 2)
hline(290, 613, 11, 2)
hline(613, 628, 11, 2)
hline(900, 1208, 11, 2)
hline(0, 22, 564.5, 2)
hline(598, 628, 564.5, 2)
hline(1170, 1208, 564.5, 2)

fig.update_layout(width=W, height=H, margin=dict(l=0, r=0, t=0, b=0),
                  paper_bgcolor="white", plot_bgcolor="white", barmode="overlay",
                  showlegend=False, annotations=ANN, shapes=SHP, **LAY)
PIN_TOP_LEFT = ("var d=document.getElementById('{plot_id}');"
                "d.style.position='fixed';d.style.left='0px';d.style.top='0px';"
                "document.documentElement.style.margin='0px';"
                "document.body.style.margin='0px';document.body.style.overflow='hidden';")
fig.write_html("out.html", config={"displayModeBar": False}, post_script=PIN_TOP_LEFT)
